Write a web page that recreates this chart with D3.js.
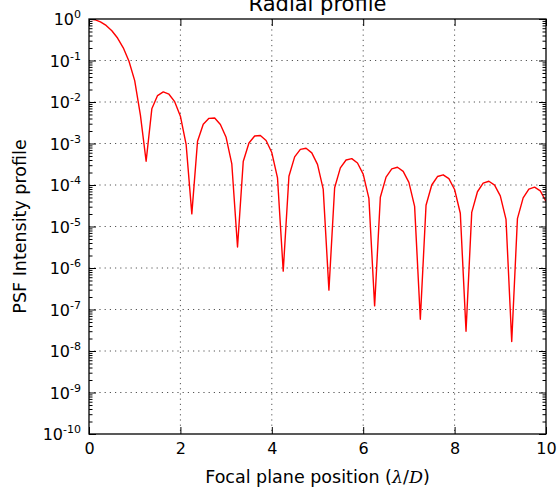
<!DOCTYPE html>
<html>
<head>
<meta charset="utf-8">
<script src="https://cdn.jsdelivr.net/npm/d3@7"></script>
<style>
  html, body { margin: 0; padding: 0; background: #fff; }
  svg { display: block; font-family: "DejaVu Sans", sans-serif; }
</style>
</head>
<body>
<div id="chart"></div>
<script>
// Radial profile of the point spread function, sampled every 1/8 lambda/D
const positions = [
  0, 0.125, 0.25, 0.375, 0.5, 0.625, 0.75, 0.875,
  1, 1.125, 1.25, 1.375, 1.5, 1.625, 1.75, 1.875,
  2, 2.125, 2.25, 2.375, 2.5, 2.625, 2.75, 2.875,
  3, 3.125, 3.25, 3.375, 3.5, 3.625, 3.75, 3.875,
  4, 4.125, 4.25, 4.375, 4.5, 4.625, 4.75, 4.875,
  5, 5.125, 5.25, 5.375, 5.5, 5.625, 5.75, 5.875,
  6, 6.125, 6.25, 6.375, 6.5, 6.625, 6.75, 6.875,
  7, 7.125, 7.25, 7.375, 7.5, 7.625, 7.75, 7.875,
  8, 8.125, 8.25, 8.375, 8.5, 8.625, 8.75, 8.875,
  9, 9.125, 9.25, 9.375, 9.5, 9.625, 9.75, 9.875,
  10
];
const intensity = [
  1, 0.962, 0.855, 0.699, 0.521, 0.348, 0.202, 0.0962,
  0.0328, 0.00484, 0.000373, 0.00685, 0.0143, 0.0175, 0.0154, 0.0102,
  0.00456, 0.000956, 2.01e-5, 0.00113, 0.00290, 0.00404, 0.00413, 0.00286,
  0.00141, 0.000322, 3.2e-6, 0.000369, 0.00103, 0.00152, 0.00156, 0.00118,
  0.000605, 0.000148, 8.4e-7, 0.000163, 0.000475, 0.000724, 0.000766, 0.000593,
  0.000313, 7.96e-5, 2.93e-7, 8.60e-5, 0.000258, 0.000401, 0.000432, 0.000340,
  0.000183, 4.75e-5, 1.22e-7, 5.07e-5, 0.000155, 0.000245, 0.000267, 0.000213,
  0.000116, 3.06e-5, 5.8e-8, 3.24e-5, 0.000100, 0.000160, 0.000176, 0.000142,
  7.78e-5, 2.09e-5, 3.0e-8, 2.19e-5, 6.88e-5, 0.000111, 0.000123, 9.92e-5,
  5.48e-5, 1.48e-5, 1.7e-8, 1.55e-5, 4.91e-5, 7.94e-5, 8.86e-5, 7.21e-5,
  4.01e-5
];
const xTicks = [0, 2, 4, 6, 8, 10];
const yExponents = [0, -1, -2, -3, -4, -5, -6, -7, -8, -9, -10];
const titleText = "Radial profile";
const yLabelText = "PSF Intensity profile";

const width = 559, height = 488;
const margin = { top: 19, right: 13, bottom: 54, left: 89 };
const innerW = width - margin.left - margin.right;
const innerH = height - margin.top - margin.bottom;

const svg = d3.select("#chart").append("svg")
  .attr("width", width).attr("height", height);

const x = d3.scaleLinear().domain([0, 10]).range([margin.left, margin.left + innerW]);
const y = d3.scaleLog().domain([1e-10, 1]).range([margin.top + innerH, margin.top]);

const majorY = yExponents.map(e => Math.pow(10, e));
const minorY = [];
for (let e = -10; e < 0; e++) {
  for (let m = 2; m <= 9; m++) minorY.push(m * Math.pow(10, e));
}

// dotted grid at major ticks
const grid = svg.append("g").attr("class", "grid")
  .attr("stroke", "#555").attr("stroke-width", 1).attr("stroke-dasharray", "1.2,4");
grid.selectAll("line.gx").data(xTicks.filter(v => v > 0 && v < 10)).join("line")
  .attr("x1", d => x(d)).attr("x2", d => x(d))
  .attr("y1", margin.top).attr("y2", margin.top + innerH);
grid.selectAll("line.gy").data(majorY.filter(v => v < 1 && v > 1e-10)).join("line")
  .attr("x1", margin.left).attr("x2", margin.left + innerW)
  .attr("y1", d => y(d)).attr("y2", d => y(d));

// profile curve
svg.append("clipPath").attr("id", "plot-clip").append("rect")
  .attr("x", margin.left).attr("y", margin.top).attr("width", innerW).attr("height", innerH);

const line = d3.line()
  .x((d, i) => x(positions[i]))
  .y(d => y(d));

svg.append("path")
  .datum(intensity)
  .attr("clip-path", "url(#plot-clip)")
  .attr("fill", "none")
  .attr("stroke", "#ff0000")
  .attr("stroke-width", 1.4)
  .attr("stroke-linejoin", "round")
  .attr("d", line);

// axes with inward ticks on all four sides
function styleAxis(g) {
  g.select(".domain").remove();
  g.selectAll(".tick line").attr("stroke", "#000").attr("stroke-width", 1);
}

const axisB = svg.append("g")
  .attr("transform", `translate(0,${margin.top + innerH})`)
  .call(d3.axisBottom(x).tickValues(xTicks).tickSizeInner(-7).tickSizeOuter(0).tickPadding(9)
    .tickFormat(d3.format("d")));
styleAxis(axisB);
axisB.selectAll("text").attr("font-size", 16).attr("fill", "#000")
  .attr("font-family", "DejaVu Sans");

const axisT = svg.append("g")
  .attr("transform", `translate(0,${margin.top})`)
  .call(d3.axisTop(x).tickValues(xTicks).tickSizeInner(-7).tickSizeOuter(0).tickFormat(""));
styleAxis(axisT);

const axisL = svg.append("g")
  .attr("transform", `translate(${margin.left},0)`)
  .call(d3.axisLeft(y).tickValues(majorY).tickSizeInner(-7).tickSizeOuter(0).tickPadding(8)
    .tickFormat(""));
styleAxis(axisL);

const axisLMinor = svg.append("g")
  .attr("transform", `translate(${margin.left},0)`)
  .call(d3.axisLeft(y).tickValues(minorY).tickSizeInner(-3.5).tickSizeOuter(0).tickFormat(""));
styleAxis(axisLMinor);

const axisR = svg.append("g")
  .attr("transform", `translate(${margin.left + innerW},0)`)
  .call(d3.axisRight(y).tickValues(majorY).tickSizeInner(-7).tickSizeOuter(0).tickFormat(""));
styleAxis(axisR);

const axisRMinor = svg.append("g")
  .attr("transform", `translate(${margin.left + innerW},0)`)
  .call(d3.axisRight(y).tickValues(minorY).tickSizeInner(-3.5).tickSizeOuter(0).tickFormat(""));
styleAxis(axisRMinor);

// y tick labels as 10 with superscript exponent
axisL.selectAll(".tick").each(function(d) {
  const t = d3.select(this).select("text")
    .attr("font-size", 16).attr("fill", "#000").attr("dy", "0.36em")
    .attr("font-family", "DejaVu Sans");
  t.text(null);
  t.append("tspan").text("10");
  t.append("tspan").attr("font-size", 11).attr("dy", "-0.62em")
    .text(String(Math.round(Math.log10(d))));
});

// frame
svg.append("rect")
  .attr("x", margin.left).attr("y", margin.top)
  .attr("width", innerW).attr("height", innerH)
  .attr("fill", "none").attr("stroke", "#000").attr("stroke-width", 1.3);

// title and axis labels
svg.append("text")
  .attr("x", margin.left + innerW / 2).attr("y", 11)
  .attr("text-anchor", "middle").attr("font-size", 21).attr("fill", "#000")
  .text(titleText);

const xl = svg.append("text")
  .attr("x", margin.left + innerW / 2).attr("y", 483)
  .attr("text-anchor", "middle").attr("font-size", 17.5).attr("fill", "#000");
xl.append("tspan").text("Focal plane position (");
xl.append("tspan").attr("font-family", "DejaVu Serif").attr("font-style", "italic").text("λ");
xl.append("tspan").text("/");
xl.append("tspan").attr("font-family", "DejaVu Serif").attr("font-style", "italic").text("D");
xl.append("tspan").text(")");

svg.append("text")
  .attr("transform", `translate(26,${margin.top + innerH / 2}) rotate(-90)`)
  .attr("text-anchor", "middle").attr("font-size", 17.5).attr("fill", "#000")
  .text(yLabelText);
</script>
</body>
</html>
